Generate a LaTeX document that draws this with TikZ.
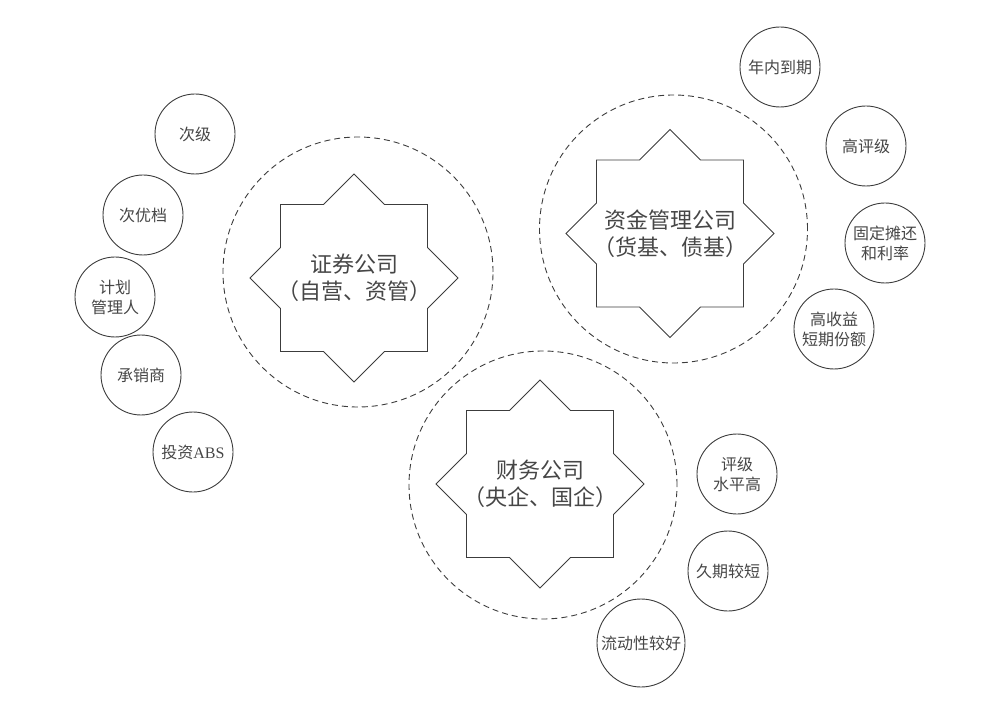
\documentclass[tikz,border=0pt]{standalone}
\usepackage{fontspec}
\setmainfont{Noto Sans CJK SC}
\newfontfamily\latinrm{Liberation Serif}

\definecolor{linegray}{RGB}{60,60,60}
\definecolor{textgray}{RGB}{70,70,70}

\tikzset{
  ring/.style={circle, draw=linegray, line width=0.9pt, minimum size=80pt, inner sep=0pt,
    align=center, text=textgray, font=\fontsize{16}{20}\selectfont},
  zone/.style={circle, draw=linegray, dash pattern=on 6pt off 4pt, line width=0.9pt,
    minimum size=268pt, inner sep=0pt},
  company/.style={inner sep=0pt, align=center, text=textgray, font=\fontsize{22}{27}\selectfont},
  starline/.style={draw=linegray, line width=0.9pt, line join=miter}
}
% eight-pointed star round a node
\newcommand{\octastar}[1]{%
  \draw[starline] (#1.center) +(90:104)
    \foreach \k in {0,...,7} { -- +(112.5+45*\k:79.6) -- +(135+45*\k:104) } -- cycle;}

\begin{document}
\begin{tikzpicture}[x=1pt, y=-1pt]
    \useasboundingbox (0,0) rectangle (1007,703);
    % Dashed zones
    \node[zone, minimum size=270pt] (zqzone) at (358,272) {};
    \node[zone] (zjzone) at (673.5,229) {};
    \node[zone] (cwzone) at (543,485) {};
    % Companies
    \node[company] (zq) at (354,278) {证券公司\\（自营、资管）};
    \node[company] (zj) at (670,233.5) {资金管理公司\\（货基、债基）};
    \node[company] (cw) at (540,484) {财务公司\\（央企、国企）};
    \octastar{zq}
    \octastar{zj}
    \octastar{cw}
    % Left group
    \node[ring] (cj) at (195,134) {次级};
    \node[ring] (cyd) at (143,215) {次优档};
    \node[ring] (jhgl) at (115,297) {计划\\管理人};
    \node[ring] (cxs) at (141,375) {承销商};
    \node[ring] (tzabs) at (193,452) {投资{\latinrm ABS}};
    % Right group
    \node[ring] (nndq) at (780,67) {年内到期};
    \node[ring] (gpj) at (866,146) {高评级};
    \node[ring] (gdth) at (885,243) {固定摊还\\和利率};
    \node[ring] (gsy) at (834,329) {高收益\\短期份额};
    % Bottom group
    \node[ring] (pjsp) at (737,474) {评级\\水平高};
    \node[ring] (jqjd) at (728,571) {久期较短};
    \node[ring, minimum size=88pt] (ldx) at (641,643) {流动性较好};
\end{tikzpicture}
\end{document}
